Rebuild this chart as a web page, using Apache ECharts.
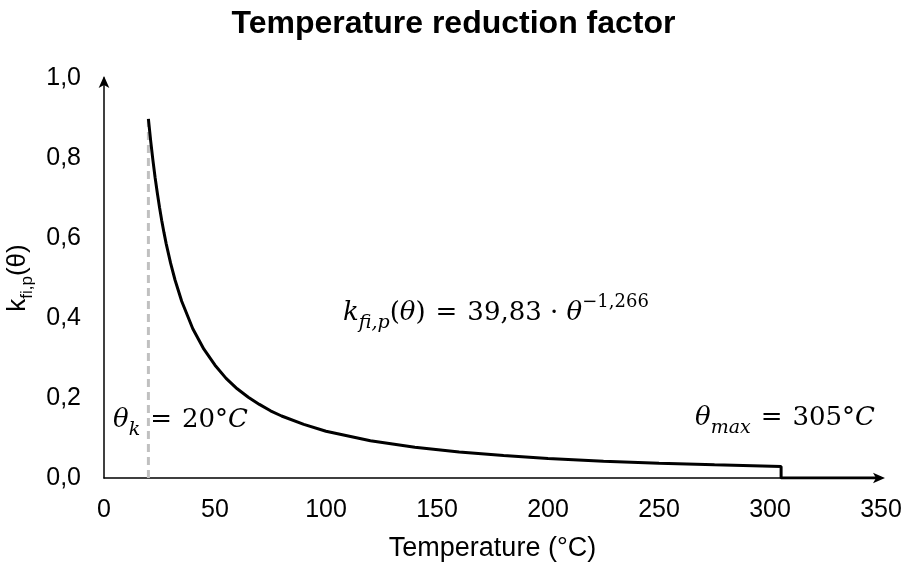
<!DOCTYPE html>
<html>
<head>
<meta charset="utf-8">
<script src="https://cdn.jsdelivr.net/npm/echarts@6/dist/echarts.min.js"></script>
<style>
  html, body { margin: 0; padding: 0; background: #fff; }
  #chart { width: 907px; height: 565px; }
</style>
</head>
<body>
<div id="chart"></div>
<script>
var temps = [20, 21, 22, 23, 24, 25, 26, 27, 28, 30, 32, 35, 40, 45, 50, 55, 60, 65, 70, 75, 80, 90, 100, 120, 140, 160, 180, 200, 225, 250, 275, 305, 305, 350];
var kValues = [0.898, 0.844, 0.796, 0.752, 0.713, 0.677, 0.644, 0.614, 0.586, 0.537, 0.495, 0.442, 0.373, 0.322, 0.282, 0.249, 0.223, 0.202, 0.184, 0.168, 0.155, 0.134, 0.117, 0.093, 0.077, 0.065, 0.056, 0.049, 0.042, 0.037, 0.033, 0.0285, 0, 0];
var thetaK = [20, 20];
var thetaKLine = [0, 0.898];
var yTicks = ['0,0', '0,2', '0,4', '0,6', '0,8', '1,0'];

var chart = echarts.init(document.getElementById('chart'));

var curve = temps.map(function (t, i) { return [t, kValues[i]]; });
var dashed = thetaK.map(function (t, i) { return [t, thetaKLine[i]]; });

var sans = '"Liberation Sans", Arial, sans-serif';
var mathFont = '"DejaVu Serif", "Liberation Serif", serif';

// rich styles for the math labels
var mathRich = {
  i: { fontFamily: mathFont, fontStyle: 'italic', fontSize: 26, fill: '#000', verticalAlign: 'middle', lineHeight: 40 },
  n: { fontFamily: mathFont, fontSize: 26, fill: '#000', verticalAlign: 'middle', lineHeight: 40 },
  eq: { fontFamily: mathFont, fontSize: 26, fill: '#000', verticalAlign: 'middle', lineHeight: 40, padding: [0, 10, 0, 10] },
  sub: { fontFamily: mathFont, fontStyle: 'italic', fontSize: 19, fill: '#000', verticalAlign: 'bottom', lineHeight: 40 },
  sup: { fontFamily: mathFont, fontSize: 18, fill: '#000', verticalAlign: 'top', lineHeight: 40 }
};

chart.setOption({
  animation: false,
  title: {
    text: 'Temperature reduction factor',
    left: 'center',
    top: 3,
    textStyle: {
      fontFamily: sans,
      fontSize: 32,
      fontWeight: 'bold',
      color: '#000'
    }
  },
  grid: {
    left: 104,
    right: 26,
    top: 78,
    bottom: 87,
    outerBoundsMode: 'none'
  },
  xAxis: {
    type: 'value',
    min: 0,
    max: 350,
    interval: 50,
    name: 'Temperature (°C)',
    nameLocation: 'middle',
    nameGap: 57,
    nameTextStyle: {
      fontFamily: sans,
      fontSize: 27,
      color: '#000'
    },
    axisLine: {
      lineStyle: { color: '#000', width: 1.5 },
      symbol: ['none', 'arrow'],
      symbolSize: [8, 12],
      symbolOffset: [0, 4]
    },
    axisTick: { show: false },
    splitLine: { show: false },
    axisLabel: {
      margin: 20,
      fontFamily: sans,
      fontSize: 25,
      color: '#000'
    }
  },
  yAxis: {
    type: 'value',
    min: 0,
    max: 1,
    interval: 0.2,
    name: '{k|k}{sub|fi,p}{k|(θ)}',
    nameLocation: 'middle',
    nameRotate: 90,
    nameGap: 56,
    nameTextStyle: {
      fontFamily: sans,
      fontSize: 26,
      color: '#000',
      rich: {
        k: { fontSize: 26, fontFamily: sans, color: '#000', verticalAlign: 'middle', lineHeight: 36 },
        sub: { fontSize: 17, fontFamily: sans, color: '#000', verticalAlign: 'bottom', lineHeight: 36 }
      }
    },
    axisLine: {
      show: true,
      lineStyle: { color: '#000', width: 1.5 },
      symbol: ['none', 'arrow'],
      symbolSize: [8, 12],
      symbolOffset: [0, 2]
    },
    axisTick: { show: false },
    splitLine: { show: false },
    axisLabel: {
      margin: 23,
      fontFamily: sans,
      fontSize: 25,
      color: '#000',
      formatter: function (v) { return yTicks[Math.round(v / 0.2)]; }
    }
  },
  series: [
    {
      type: 'line',
      data: dashed,
      symbol: 'none',
      silent: true,
      lineStyle: { color: '#c0c0c0', width: 3, type: [8, 5] },
      z: 2
    },
    {
      type: 'line',
      data: curve,
      symbol: 'none',
      lineStyle: { color: '#000', width: 3 },
      z: 3
    }
  ],
  graphic: [
    {
      type: 'text',
      left: 343,
      top: 293,
      style: {
        text: '{i|k}{sub|fi,p}{n|(}{i|θ}{n|)}{eq|=}{n|39,83 · }{i|θ}{sup|−1,266}',
        rich: mathRich
      }
    },
    {
      type: 'text',
      left: 113,
      top: 407,
      style: {
        text: '{i|θ}{sub|k}{eq|=}{n|20°}{i|C}',
        rich: mathRich
      }
    },
    {
      type: 'text',
      left: 695,
      top: 405,
      style: {
        text: '{i|θ}{sub|max}{eq|=}{n|305°}{i|C}',
        rich: mathRich
      }
    }
  ]
});
</script>
</body>
</html>
